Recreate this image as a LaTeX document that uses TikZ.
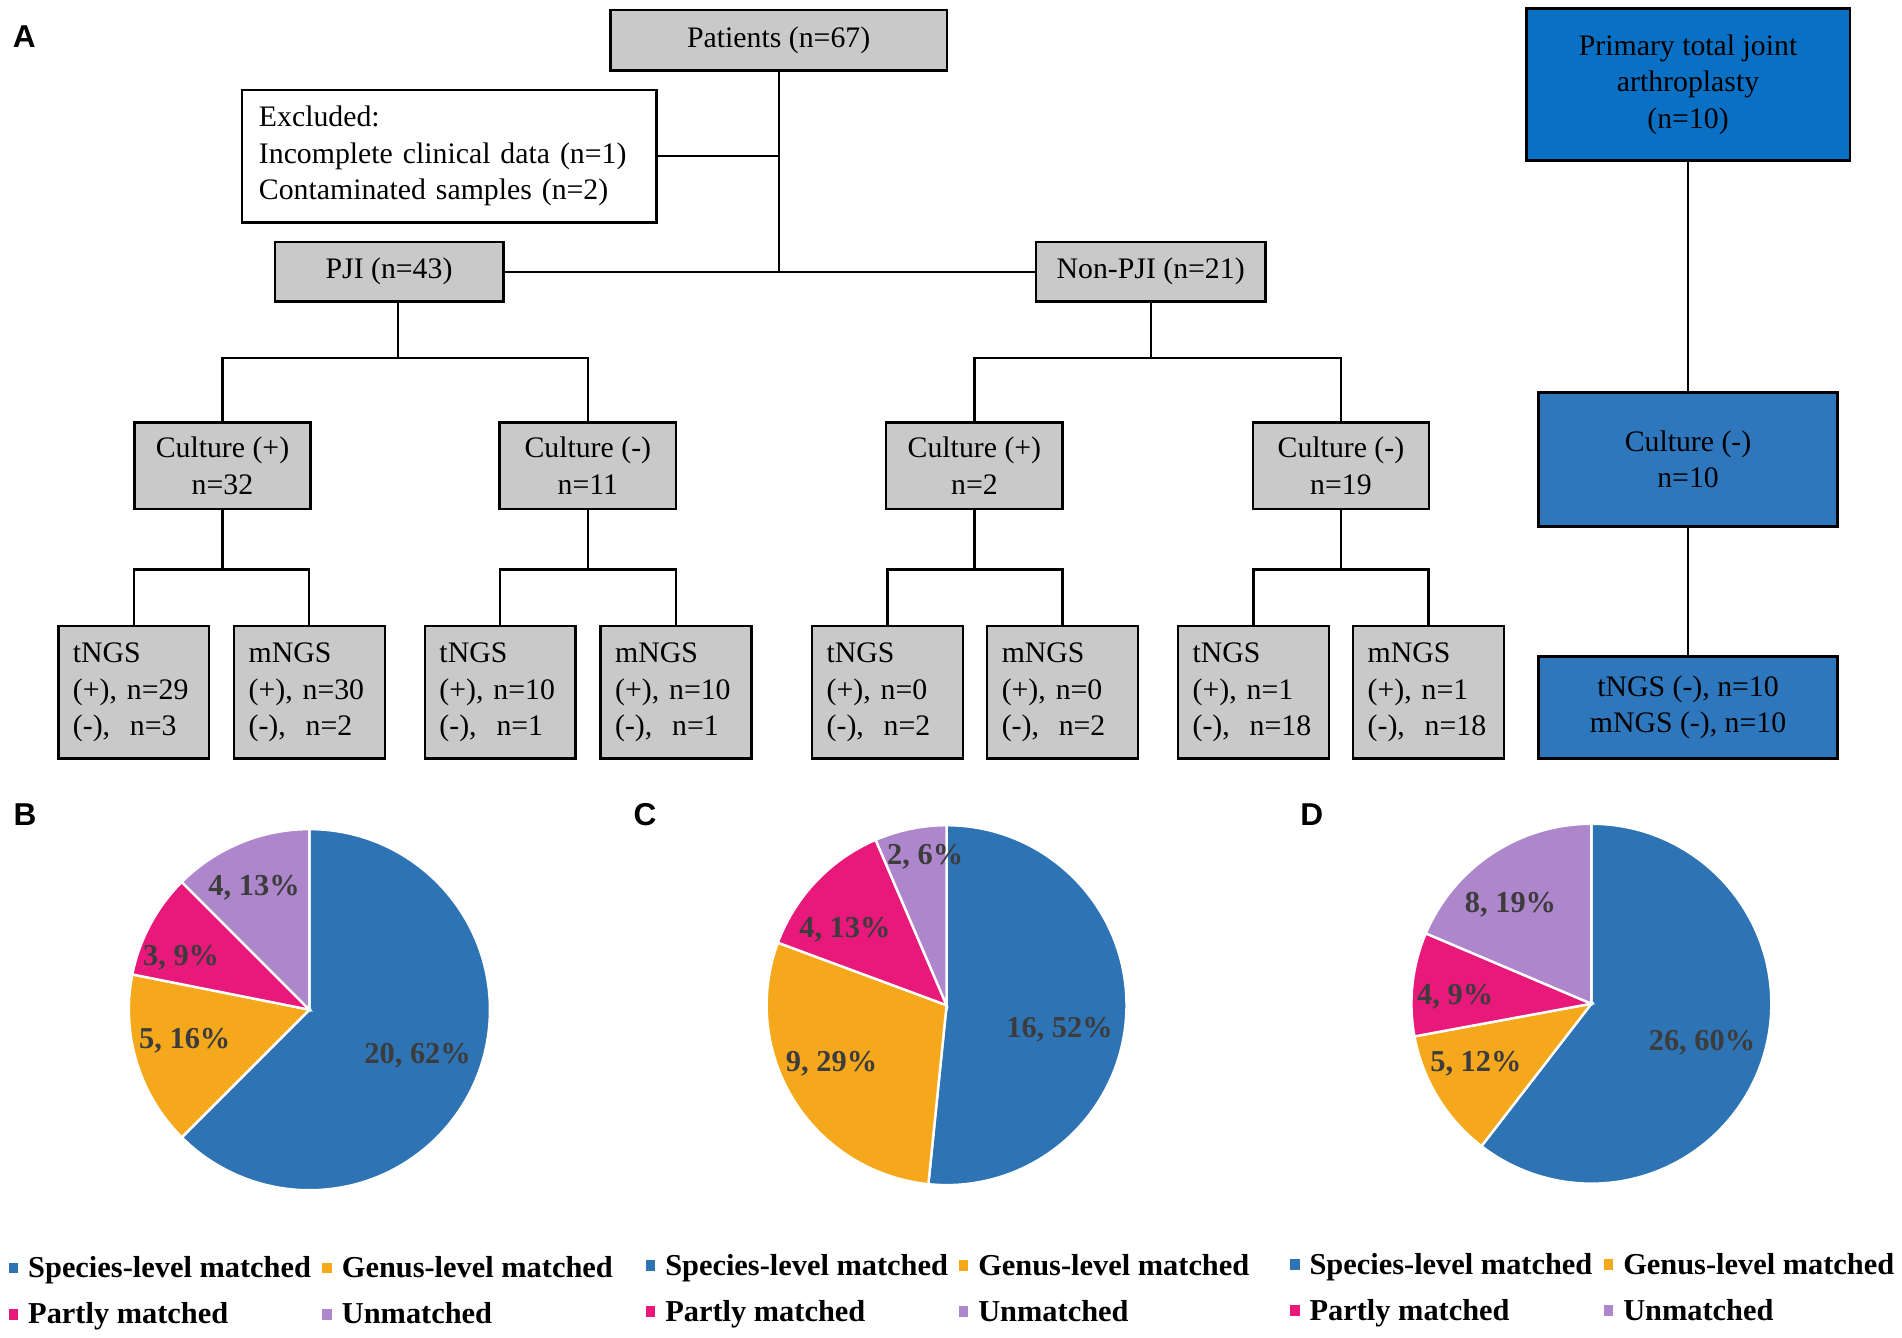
\documentclass[tikz,border=0pt]{standalone}
\usepackage{fontspec}
\setmainfont{Liberation Serif}
\newfontfamily\panelfont{Liberation Sans}
\usetikzlibrary{positioning, calc}
\definecolor{boxgray}{HTML}{C9C9C9}
\definecolor{ptjablue}{HTML}{0A70C4}
\definecolor{negblue}{HTML}{2F77BC}
\definecolor{spcol}{HTML}{2E74B5}
\definecolor{gecol}{HTML}{F6A81C}
\definecolor{pacol}{HTML}{E8197B}
\definecolor{uncol}{HTML}{AE86CB}
\definecolor{pielab}{HTML}{3C3C3C}
\newcommand{\boxfont}{\fontsize{24.5}{30}\selectfont}
\newcommand{\labfont}{\fontsize{25}{30}\selectfont}

\begin{document}
\begin{tikzpicture}[x=1pt, y=-1pt,
    box/.style={rectangle, draw, line width=2pt, fill=boxgray, inner sep=0pt, align=center, font=\boxfont},
    ngsbox/.style={box, minimum height=109pt, text width=100pt, inner xsep=12pt, align=left},
    culturebox/.style={box, minimum width=145pt, minimum height=71pt},
    bluebox/.style={box, fill=negblue, minimum width=246pt},
    link/.style={line width=1.8pt},
    panel/.style={font=\panelfont\bfseries\fontsize{26}{26}\selectfont, inner sep=0pt},
    pielabel/.style={font=\bfseries\labfont, text=pielab, inner sep=0pt},
    legsq/.style={rectangle, minimum width=8pt, minimum height=9pt, inner sep=0pt},
    legtext/.style={font=\bfseries\labfont, inner sep=0pt, anchor=base west}
]
    \useasboundingbox (0,0) rectangle (1564.5,1100);

    % panel A: flow chart
    \node[panel] (lblA) at (20,30) {A};
    \node[box, minimum width=277pt, minimum height=50pt] (patients) at (640.5,33) {Patients (n=67)};
    \node[box, fill=white, minimum height=109pt, text width=313pt, inner xsep=14pt, align=left] (excluded) at (369.5,128.5)
        {Excluded:\\Incomplete clinical data (n=1)\\Contaminated samples (n=2)};
    \node[box, minimum width=188pt, minimum height=49pt] (pji) at (320,223.5) {PJI (n=43)};
    \node[box, minimum width=189pt, minimum height=49pt] (nonpji) at (946.5,223.5) {Non-PJI (n=21)};

    \node[culturebox] (cpA) at (183,383) {Culture (+)\\n=32};
    \node[culturebox] (cnA) at (483.5,383) {Culture (-)\\n=11};
    \node[culturebox] (cpB) at (801.5,383) {Culture (+)\\n=2};
    \node[culturebox] (cnB) at (1103,383) {Culture (-)\\n=19};

    \node[ngsbox] (tA1) at (110,569.5) {tNGS\\(+), n=29\\(-),~ n=3};
    \node[ngsbox] (mA1) at (254.5,569.5) {mNGS\\(+), n=30\\(-),~ n=2};
    \node[ngsbox] (tA2) at (411.5,569.5) {tNGS\\(+), n=10\\(-),~ n=1};
    \node[ngsbox] (mA2) at (556,569.5) {mNGS\\(+), n=10\\(-),~ n=1};
    \node[ngsbox] (tB1) at (730,569.5) {tNGS\\(+), n=0\\(-),~ n=2};
    \node[ngsbox] (mB1) at (874,569.5) {mNGS\\(+), n=0\\(-),~ n=2};
    \node[ngsbox] (tB2) at (1031,569.5) {tNGS\\(+), n=1\\(-),~ n=18};
    \node[ngsbox] (mB2) at (1175,569.5) {mNGS\\(+), n=1\\(-),~ n=18};

    \node[box, fill=ptjablue, minimum width=266pt, minimum height=125pt] (ptja) at (1388.5,69.5)
        {Primary total joint\\arthroplasty\\(n=10)};
    \node[bluebox, minimum height=110pt] (cneg) at (1388.5,378) {Culture (-)\\n=10};
    \node[bluebox, minimum height=84pt] (ngsneg) at (1388.5,582) {tNGS (-), n=10\\mNGS (-), n=10};

    % connectors
    \draw[link] (patients.south) -- (patients.south |- pji.east);
    \draw[link] (excluded.east) -- (excluded.east -| patients.south);
    \draw[link] (pji.east) -- (nonpji.west);

    \coordinate (pjifork) at (327.5,294.5);
    \coordinate (nonpjifork) at (946.5,294.5);
    \draw[link] (pjifork |- pji.south) -- (pjifork);
    \draw[link] (cpA.north) |- (pjifork) -| (cnA.north);
    \draw[link] (nonpji.south) -- (nonpjifork);
    \draw[link] (cpB.north) |- (nonpjifork) -| (cnB.north);

    \foreach \c/\t/\m in {cpA/tA1/mA1, cnA/tA2/mA2, cpB/tB1/mB1, cnB/tB2/mB2} {
        \coordinate (\c-fork) at ($(\c.south)+(0,49)$);
        \draw[link] (\c.south) -- (\c-fork);
        \draw[link] (\t.north) |- (\c-fork) -| (\m.north);
    }

    \draw[link] (ptja.south) -- (cneg.north);
    \draw[link] (cneg.south) -- (ngsneg.north);

    % panels B, C, D: pie charts
    \node[panel] (lblB) at (20.5,670) {B};
    \node[panel] (lblC) at (530.5,670) {C};
    \node[panel] (lblD) at (1079,670) {D};

    \coordinate (pieB) at (254.5,830.5);
    \coordinate (pieC) at (778.6,826.8);
    \coordinate (pieD) at (1309,825.6);

    \foreach \a/\b/\c in {90/-135/spcol, -135/-191.25/gecol, -191.25/-225/pacol, -225/-270/uncol}
        \filldraw[fill=\c, draw=white, line width=2pt] (pieB) -- ++(\a:148.5pt) arc[start angle=\a, end angle=\b, radius=148.5pt] -- cycle;
    \foreach \a/\b/\c in {90/-95.81/spcol, -95.81/-200.32/gecol, -200.32/-246.77/pacol, -246.77/-270/uncol}
        \filldraw[fill=\c, draw=white, line width=2pt] (pieC) -- ++(\a:148pt) arc[start angle=\a, end angle=\b, radius=148pt] -- cycle;
    \foreach \a/\b/\c in {90/-127.67/spcol, -127.67/-169.53/gecol, -169.53/-203.02/pacol, -203.02/-270/uncol}
        \filldraw[fill=\c, draw=white, line width=2pt] (pieD) -- ++(\a:148pt) arc[start angle=\a, end angle=\b, radius=148pt] -- cycle;

    \node[pielabel] (bsp) at (343.5,868) {20, 62\%};
    \node[pielabel] (bge) at (152,856) {5, 16\%};
    \node[pielabel] (bpa) at (149,788) {3, 9\%};
    \node[pielabel] (bun) at (209,730) {4, 13\%};

    \node[pielabel] (csp) at (871.5,847) {16, 52\%};
    \node[pielabel] (cge) at (684,875) {9, 29\%};
    \node[pielabel] (cpa) at (695,765) {4, 13\%};
    \node[pielabel] (cun) at (761,705) {2, 6\%};

    \node[pielabel] (dsp) at (1400,858) {26, 60\%};
    \node[pielabel] (dge) at (1214,875) {5, 12\%};
    \node[pielabel] (dpa) at (1197,820) {4, 9\%};
    \node[pielabel] (dun) at (1242.5,744) {8, 19\%};

    % legends
    \foreach \sx/\gx/\ya/\yb [count=\i] in {23/281/1051/1089, 547/804.5/1049/1087, 1077/1335/1048/1086} {
        \node[legtext] (sp\i) at (\sx,\ya) {Species-level matched};
        \node[legtext] (ge\i) at (\gx,\ya) {Genus-level matched};
        \node[legtext] (pa\i) at (\sx,\yb) {Partly matched};
        \node[legtext] (un\i) at (\gx,\yb) {Unmatched};
        \node[legsq, fill=spcol] (spsq\i) at ($(\sx,\ya)+(-12,-8)$) {};
        \node[legsq, fill=gecol] (gesq\i) at ($(\gx,\ya)+(-12,-8)$) {};
        \node[legsq, fill=pacol] (pasq\i) at ($(\sx,\yb)+(-12,-8)$) {};
        \node[legsq, fill=uncol] (unsq\i) at ($(\gx,\yb)+(-12,-8)$) {};
    }
\end{tikzpicture}
\end{document}
